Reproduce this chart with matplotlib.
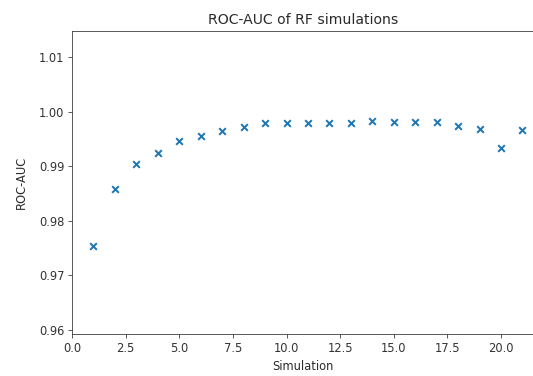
import matplotlib
matplotlib.use("Agg")
import matplotlib.pyplot as plt
import numpy as np

simulation = list(range(1, 22))
roc_auc = [0.9754, 0.9858, 0.99035, 0.99247, 0.99456, 0.99553, 0.99645, 0.99718,
           0.99786, 0.99786, 0.99786, 0.99786, 0.99786, 0.99833, 0.99810, 0.99810,
           0.99810, 0.99742, 0.99687, 0.99339, 0.99669]
xticks = [0.0, 2.5, 5.0, 7.5, 10.0, 12.5, 15.0, 17.5, 20.0]
yticks = [0.96, 0.97, 0.98, 0.99, 1.00, 1.01]

txt = '#2a2a2a'
plt.rcParams['text.color'] = txt
plt.rcParams['axes.labelcolor'] = txt
plt.rcParams['xtick.color'] = '#333333'
plt.rcParams['ytick.color'] = '#333333'
plt.rcParams['axes.edgecolor'] = '#333333'

W, H = 533, 376
fig = plt.figure(figsize=(W / 72, H / 72), dpi=72)
left, right, bottom, top = 72, 534, 376 - 334.3, 376 - 30.7
ax = fig.add_axes([left / W, bottom / H, (right - left) / W, (top - bottom) / H])
ax.scatter(simulation, roc_auc, marker='x', color='#1f77b4', s=44, linewidths=2.0)
ax.set_xlim(0, (right - left) / 21.45)
ax.set_ylim(0.95921, 1.01482)
ax.set_xticks(xticks)
ax.set_xticklabels([f"{t:.1f}" for t in xticks])
ax.set_yticks(yticks)
ax.set_yticklabels([f"{t:.2f}" for t in yticks])
ax.tick_params(labelsize=11.5, length=4)
ax.set_title("ROC-AUC of RF simulations", fontsize=14, pad=7)
ax.set_xlabel("Simulation", fontsize=11.5, labelpad=5)
ax.set_ylabel("ROC-AUC", fontsize=11.5, labelpad=11)
fig.savefig("out.png", dpi=72)
